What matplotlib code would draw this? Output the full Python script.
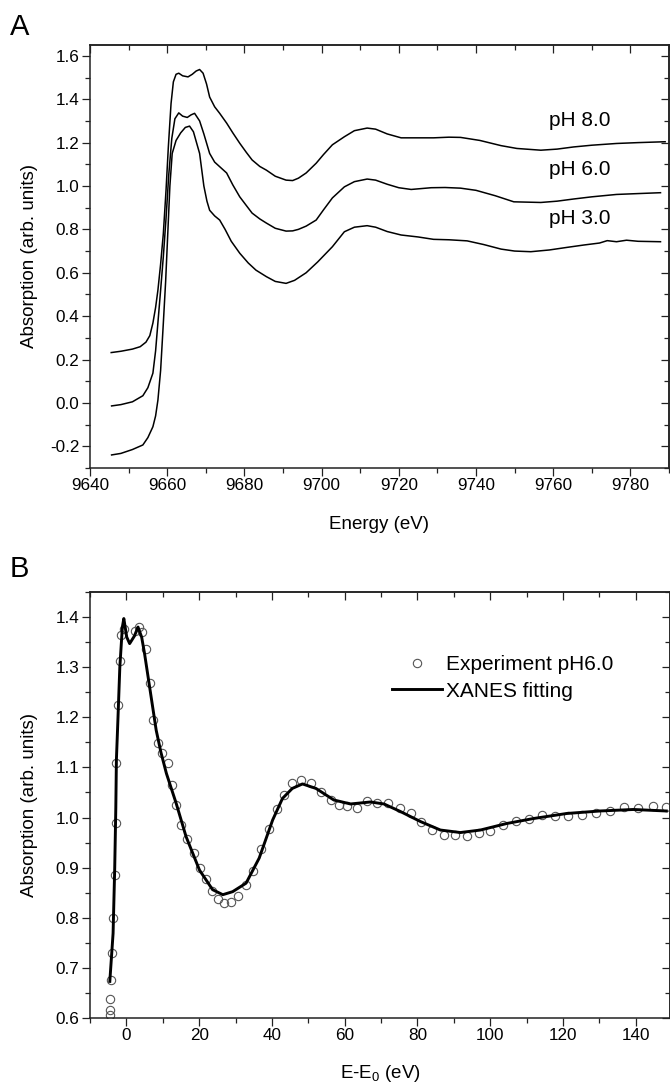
#XANES spectra at different pH + fitting of pH 6.0

import numpy as np
import matplotlib.pyplot as plt
from matplotlib.ticker import MultipleLocator

plt.rcParams['font.family'] = ['Liberation Sans', 'DejaVu Sans']
plt.rcParams['mathtext.fontset'] = 'custom'
plt.rcParams['mathtext.rm'] = 'Liberation Sans'
plt.rcParams['mathtext.it'] = 'Liberation Sans'

# panel A: energy (eV) and absorption for each pH
e_ph8 = [9645.5, 9648, 9651, 9653, 9654.5, 9655.5, 9656.3, 9657, 9657.6, 9658.3, 9659, 9659.7, 9660.3, 9661, 9661.6,
         9662.3, 9663, 9664, 9665.4, 9666.5, 9667.5, 9668.4, 9669.3, 9670.2, 9671, 9672.3, 9673.6, 9675.4, 9677,
         9678.8, 9680.5, 9682, 9684, 9685.7, 9688, 9690.8, 9692.5, 9694, 9696, 9698.6, 9700.5, 9702.8, 9705.9,
         9708.5, 9711.8, 9714, 9717, 9720.6, 9725, 9729, 9733, 9736, 9741, 9746.5, 9750.6, 9756.8, 9761, 9765.3,
         9770, 9776.4, 9782, 9789]
a_ph8 = [0.232, 0.238, 0.248, 0.259, 0.28, 0.31, 0.368, 0.44, 0.52, 0.64, 0.78, 0.98, 1.18, 1.38, 1.48,
         1.515, 1.52, 1.508, 1.503, 1.515, 1.53, 1.537, 1.52, 1.47, 1.41, 1.365, 1.335, 1.29, 1.245,
         1.197, 1.155, 1.12, 1.09, 1.073, 1.045, 1.027, 1.025, 1.036, 1.06, 1.105, 1.145, 1.19, 1.227,
         1.255, 1.267, 1.262, 1.24, 1.222, 1.222, 1.222, 1.225, 1.224, 1.21, 1.186, 1.173, 1.165, 1.17, 1.18,
         1.188, 1.196, 1.2, 1.204]

e_ph6 = [9645.6, 9648, 9651, 9653.7, 9655, 9656.3, 9657, 9657.6, 9658.3, 9659, 9659.7, 9660.4, 9661.2, 9662,
         9663, 9664, 9665.2, 9666.2, 9667.1, 9668.4, 9669.5, 9671, 9672.3, 9673.6, 9675.4, 9677, 9678.8, 9680.5,
         9682, 9684, 9685.7, 9688, 9690.8, 9692.5, 9694, 9696, 9698.6, 9700.5, 9702.8, 9705.9, 9708.5, 9711.8,
         9714, 9717, 9720, 9723.2, 9728.4, 9732, 9736, 9740, 9745, 9749.8, 9756.8, 9761, 9765.3, 9770, 9776.4,
         9782, 9787.8]
a_ph6 = [-0.014, -0.008, 0.005, 0.033, 0.07, 0.137, 0.24, 0.37, 0.52, 0.674, 0.85, 1.05, 1.22, 1.31,
         1.337, 1.322, 1.316, 1.328, 1.335, 1.30, 1.24, 1.15, 1.11, 1.089, 1.06, 1.005, 0.95, 0.91,
         0.875, 0.848, 0.829, 0.805, 0.792, 0.793, 0.80, 0.815, 0.843, 0.89, 0.945, 0.996, 1.02, 1.032,
         1.027, 1.008, 0.992, 0.984, 0.992, 0.993, 0.99, 0.98, 0.955, 0.927, 0.924, 0.93, 0.94, 0.95, 0.961,
         0.965, 0.969]

e_ph3 = [9645.6, 9648, 9651, 9653.7, 9655, 9656.3, 9657, 9657.6, 9658.3, 9659, 9659.6, 9660.2, 9660.7, 9661.3,
         9662.3, 9663.5, 9664.7, 9665.8, 9666.8, 9667.6, 9668.4, 9669.5, 9670.3, 9671, 9672.3, 9673.6, 9675,
         9676.6, 9678.8, 9681, 9683, 9685.7, 9688, 9690.8, 9693, 9696, 9699, 9702.8, 9705.9, 9708.5, 9711.8,
         9714, 9717, 9720.6, 9725, 9729, 9733, 9737.7, 9742, 9746.5, 9750, 9754.2, 9759, 9763.6, 9768, 9772,
         9774, 9776.4, 9779, 9782, 9787.8]
a_ph3 = [-0.24, -0.233, -0.215, -0.194, -0.16, -0.11, -0.06, 0.013, 0.15, 0.367, 0.56, 0.80, 1.0, 1.15,
         1.21, 1.245, 1.27, 1.276, 1.25, 1.2, 1.15, 1.0, 0.93, 0.888, 0.862, 0.843, 0.80,
         0.745, 0.69, 0.645, 0.612, 0.582, 0.56, 0.551, 0.565, 0.60, 0.65, 0.72, 0.789, 0.81, 0.817,
         0.81, 0.79, 0.774, 0.765, 0.754, 0.752, 0.747, 0.73, 0.709, 0.70, 0.697, 0.705, 0.717, 0.728, 0.737,
         0.748, 0.743, 0.75, 0.745, 0.743]

ph_labels = ['pH 8.0', 'pH 6.0', 'pH 3.0']
ph_label_y = [1.30, 1.075, 0.85]

# panel B: experiment pH 6.0 and XANES fit, E-E0 (eV)
x_exp = [-4.6, -4.5, -4.4, -4.3, -4.0, -3.6, -3.2, -2.9, -2.74, -2.3, -1.84, -1.45, -0.55, 2.4, 3.4, 4.3,
         5.4, 6.4, 7.3, 8.7, 9.8, 11.4, 12.6, 13.7, 15.1, 16.7, 18.5, 20.1, 21.9, 23.6, 25.1, 26.9, 28.8,
         30.8, 32.9, 34.9, 37, 39.3, 41.3, 43.4, 45.6, 47.9, 50.7, 53.4, 56.2, 58.5, 60.7, 63.5, 66.2, 68.9,
         71.9, 75.2, 78.1, 81, 84, 87.2, 90.4, 93.6, 96.8, 100, 103.5, 107.1, 110.7, 114.1, 117.8, 121.5,
         125.1, 129, 132.9, 136.8, 140.6, 144.6, 148.3]
y_exp = [0.606, 0.616, 0.638, 0.675, 0.73, 0.80, 0.885, 0.99, 1.108, 1.224, 1.313, 1.365, 1.376, 1.372,
         1.38, 1.37, 1.337, 1.269, 1.194, 1.149, 1.128, 1.109, 1.065, 1.025, 0.985, 0.958, 0.929, 0.899,
         0.877, 0.854, 0.838, 0.829, 0.832, 0.844, 0.866, 0.894, 0.937, 0.977, 1.016, 1.045, 1.068, 1.075,
         1.069, 1.051, 1.035, 1.024, 1.022, 1.018, 1.033, 1.029, 1.028, 1.018, 1.008, 0.992, 0.975, 0.965,
         0.965, 0.964, 0.969, 0.974, 0.986, 0.994, 0.998, 1.005, 1.003, 1.003, 1.005, 1.008, 1.012, 1.020,
         1.018, 1.022, 1.02]

x_fit = [-4.55, -3.65, -3.2, -2.9, -2.74, -2.3, -1.8, -1.1, -0.7, 0.1, 0.9, 2.2, 3.2, 4.2, 5.0, 6.4, 8.2,
         9.5, 11, 13.7, 16.4, 20.1, 23.7, 26.5, 29.2, 32.9, 36.5, 40.2, 42.9, 45.6, 48.4, 52.1, 57, 61.6,
         67.1, 70.8, 75.3, 80.8, 86.3, 91.8, 97.3, 104.5, 111.9, 121, 130.1, 139.3, 148.4]
y_fit = [0.673, 0.769, 0.90, 1.02, 1.115, 1.20, 1.30, 1.38, 1.397, 1.36, 1.347, 1.362, 1.38, 1.36, 1.327,
         1.26, 1.174, 1.13, 1.088, 1.028, 0.962, 0.895, 0.856, 0.846, 0.852, 0.869, 0.919, 0.995, 1.038,
         1.058, 1.067, 1.058, 1.035, 1.027, 1.031, 1.027, 1.012, 0.992, 0.975, 0.97, 0.975, 0.988, 0.998,
         1.008, 1.013, 1.016, 1.013]


def style_axes(ax, xmaj, xmin, ymaj, ymin):
    # left/bottom ticks out, mirrored top/right ticks in (Origin style)
    for s in ax.spines.values():
        s.set_linewidth(1.1)
        s.set_color('#222222')
    ax.xaxis.set_major_locator(MultipleLocator(xmaj))
    ax.xaxis.set_minor_locator(MultipleLocator(xmin))
    ax.yaxis.set_major_locator(MultipleLocator(ymaj))
    ax.yaxis.set_minor_locator(MultipleLocator(ymin))
    ax.tick_params(which='both', direction='out', width=0.9, labelsize=12.3, pad=2, color='#222222')
    ax.tick_params(which='major', length=5.5)
    ax.tick_params(which='minor', length=3.5)
    top = ax.secondary_xaxis('top')
    right = ax.secondary_yaxis('right')
    top.xaxis.set_major_locator(MultipleLocator(xmaj))
    top.xaxis.set_minor_locator(MultipleLocator(xmin))
    right.yaxis.set_major_locator(MultipleLocator(ymaj))
    right.yaxis.set_minor_locator(MultipleLocator(ymin))
    for sec in (top, right):
        sec.tick_params(which='both', direction='in', width=0.9, labeltop=False, labelright=False,
                        color='#222222')
        sec.tick_params(which='major', length=5.5)
        sec.tick_params(which='minor', length=3.5)
        for s in sec.spines.values():
            s.set_linewidth(1.1)
            s.set_color('#222222')


fig = plt.figure(figsize=(6.7, 10.87), dpi=100)

# ---- panel A
ax1 = fig.add_axes([0.1343, 0.5695, 0.8642, 0.3891])
for e, a in ((e_ph8, a_ph8), (e_ph6, a_ph6), (e_ph3, a_ph3)):
    ax1.plot(e, a, color='black', lw=1.1)
for lab, yy in zip(ph_labels, ph_label_y):
    ax1.text(9758.8, yy, lab, fontsize=15, va='center', ha='left')
ax1.set_xlim(9640, 9790)
ax1.set_ylim(-0.3, 1.65)
style_axes(ax1, 20, 10, 0.2, 0.1)
ax1.yaxis.set_major_formatter(plt.FormatStrFormatter('%.1f'))
ax1.set_xlabel('Energy (eV)', fontsize=13.5, labelpad=16)
ax1.set_ylabel('Absorption (arb. units)', fontsize=13.5)
ax1.yaxis.set_label_coords(-0.09, 0.5)

# ---- panel B
ax2 = fig.add_axes([0.1343, 0.0635, 0.8657, 0.3919])
ax2.plot(x_exp, y_exp, 'o', mfc='none', mec='#555555', mew=0.8, ms=6, label='Experiment pH6.0')
ax2.plot(x_fit, y_fit, color='black', lw=2.1, label='XANES fitting')
ax2.set_xlim(-10, 149.4)
ax2.set_ylim(0.6, 1.45)
style_axes(ax2, 20, 10, 0.1, 0.05)
ax2.set_xlabel('E-E$_0$ (eV)', fontsize=13.5, labelpad=14)
ax2.set_ylabel('Absorption (arb. units)', fontsize=13.5)
ax2.yaxis.set_label_coords(-0.09, 0.5)
ax2.legend(loc='upper left', bbox_to_anchor=(0.52, 0.851), frameon=False, fontsize=15,
           borderpad=0, borderaxespad=0, handlelength=2.4, handletextpad=0.2, labelspacing=0.35)

fig.text(0.015, 0.9678, 'A', fontsize=21, ha='left', va='baseline')
fig.text(0.015, 0.469, 'B', fontsize=21, ha='left', va='baseline')

plt.savefig('out.png', dpi=100)
